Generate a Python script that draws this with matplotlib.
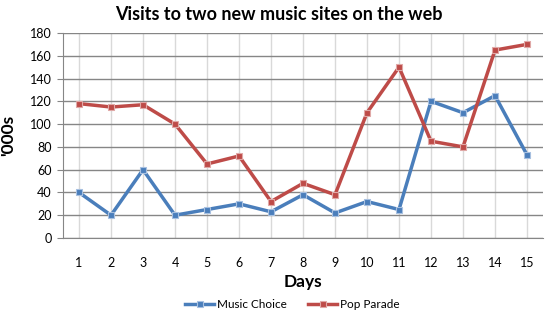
import numpy as np
import matplotlib
matplotlib.use('Agg')
import matplotlib.pyplot as plt

plt.rcParams['font.family'] = ['Lato', 'DejaVu Sans']

days = list(range(1, 16))
music_choice = [40, 20, 60, 20, 25, 30, 23, 38, 22, 32, 25, 120, 110, 125, 73]
pop_parade = [118, 115, 117, 100, 65, 72, 32, 48, 38, 110, 150, 85, 80, 165, 170]

blue = '#4a7ebb'
red = '#be4b48'

fig = plt.figure(figsize=(5.47, 3.13), dpi=100)
ax = fig.add_axes([0.1152, 0.2396, 0.8775, 0.655])

# vertical gridlines at each category, light grey
for d in days:
    ax.axvline(d, color='#d9d9d9', lw=1, zorder=0)
ax.yaxis.grid(True, color='#868686', lw=1, zorder=0)
ax.set_axisbelow(True)

ax.plot(days, music_choice, color=blue, lw=2.5, marker='s', ms=4.5,
        mfc=blue, mec='#a7c0e0', mew=0.8, label='Music Choice', zorder=3)
ax.plot(days, pop_parade, color=red, lw=2.5, marker='s', ms=4.5,
        mfc=red, mec='#e0a8a6', mew=0.8, label='Pop Parade', zorder=3)

ax.set_xlim(0.5, 15.5)
ax.set_ylim(0, 180)
ax.set_yticks(range(0, 181, 20))
ax.set_xticks(days)

for s in ['top', 'right']:
    ax.spines[s].set_visible(False)
ax.spines['left'].set_color('#868686')
ax.spines['bottom'].set_color('#868686')
ax.tick_params(axis='y', length=4, color='#868686', labelsize=9, pad=4)
ax.tick_params(axis='x', length=0, labelsize=9, pad=14)

fig.text(0.51, 0.955, 'Visits to two new music sites on the web', fontsize=13,
         fontweight='bold', ha='center', va='center')
ax.set_xlabel('Days', fontsize=12.5, fontweight='bold', labelpad=3)
ax.set_ylabel("'000s", fontsize=12.5, fontweight='bold', labelpad=10)

fig.legend(loc='lower center', bbox_to_anchor=(0.535, -0.025), ncol=2,
           frameon=False, fontsize=8.5, handlelength=2.4, handletextpad=0.3,
           columnspacing=1.8)

fig.savefig('out.png', dpi=100)
